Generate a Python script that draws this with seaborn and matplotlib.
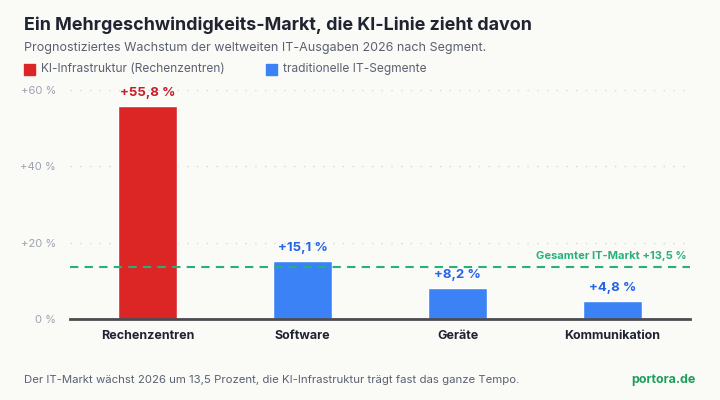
import matplotlib
matplotlib.use("Agg")
from matplotlib import pyplot as plt
import seaborn as sns

# Daten
segmente = ["Rechenzentren", "Software", "Geräte", "Kommunikation"]
wachstum = [55.8, 15.1, 8.2, 4.8]
gruppe = ["ki", "trad", "trad", "trad"]
gesamt_markt = 13.5
y_ticks = [0, 20, 40, 60]
y_labels = ["0 %", "+20 %", "+40 %", "+60 %"]

bar_farbe = {"ki": "#dc2626", "trad": "#3b82f6"}
text_farbe = {"ki": "#c81e2a", "trad": "#2563eb"}
gruen = "#26b07f"
bg = "#fafaf7"

sns.set_style("white")
plt.rcParams['font.family'] = ['Inter', 'DejaVu Sans']

fig = plt.figure(figsize=(7.2, 4), dpi=100, facecolor=bg)
ax = fig.add_axes([70 / 720, 81 / 400, 620 / 720, 229 / 400])
ax.set_facecolor(bg)

sns.barplot(x=segmente, y=wachstum, hue=segmente,
            palette=[bar_farbe[g] for g in gruppe],
            width=0.387, saturation=1, legend=False, ax=ax)

ax.set_xlim(-0.5, len(segmente) - 0.5)
ax.set_ylim(0, 60)
ax.set_yticks(y_ticks)
ax.set_yticklabels(y_labels, color="#9ca3af", fontsize=8)
for t in y_ticks[1:]:
    ax.axhline(t, color="#d8d8d8", linestyle=(0, (1, 6)), linewidth=1, zorder=0)
ax.tick_params(axis="y", length=0, pad=10)
ax.tick_params(axis="x", length=0, pad=8)
for lab in ax.get_xticklabels():
    lab.set_fontweight("bold")
    lab.set_fontsize(9)
    lab.set_color("#1f2430")

for s in ["top", "right", "left"]:
    ax.spines[s].set_visible(False)
ax.spines["bottom"].set_color("#4b4b50")
ax.spines["bottom"].set_linewidth(2)

# Balkenbeschriftungen
for i, (v, g) in enumerate(zip(wachstum, gruppe)):
    ax.annotate(f"+{v:.1f} %".replace(".", ","), (i, v), xytext=(0, 5),
                textcoords="offset points", ha="center", va="bottom",
                fontsize=9.5, fontweight="bold", color=text_farbe[g])

# Gesamtmarkt-Linie
ax.axhline(gesamt_markt, color=gruen, linestyle=(0, (4, 3)), linewidth=1.5, zorder=1)
ax.text(3.48, gesamt_markt + 1.6, "Gesamter IT-Markt +" + f"{gesamt_markt:.1f}".replace(".", ",") + " %",
        ha="right", va="bottom", fontsize=8, fontweight="bold", color=gruen)

# Titel, Untertitel, Legende
fig.text(24 / 720, 1 - 25 / 400, "Ein Mehrgeschwindigkeits-Markt, die KI-Linie zieht davon",
         fontsize=12.9, fontweight="bold", color="#1f2430", va="center")
fig.text(24 / 720, 1 - 48 / 400, "Prognostiziertes Wachstum der weltweiten IT-Ausgaben 2026 nach Segment.",
         fontsize=9, color="#5b6170", va="center")
fig.patches.append(plt.Rectangle((24 / 720, 1 - 75 / 400), 11 / 720, 11 / 400,
                                 transform=fig.transFigure, color=bar_farbe["ki"]))
fig.text(41 / 720, 1 - 69 / 400, "KI-Infrastruktur (Rechenzentren)", fontsize=8.6, color="#5b6170", va="center")
fig.patches.append(plt.Rectangle((266 / 720, 1 - 75 / 400), 11 / 720, 11 / 400,
                                 transform=fig.transFigure, color=bar_farbe["trad"]))
fig.text(283 / 720, 1 - 69 / 400, "traditionelle IT-Segmente", fontsize=8.6, color="#5b6170", va="center")

# Fußzeile
fig.text(24 / 720, 1 - 380 / 400,
         "Der IT-Markt wächst 2026 um 13,5 Prozent, die KI-Infrastruktur trägt fast das ganze Tempo.",
         fontsize=8.2, color="#5b6170", va="center")
fig.text(696 / 720, 1 - 380 / 400, "portora.de", fontsize=9, fontweight="bold",
         color="#1f9d5c", va="center", ha="right")

fig.savefig("out.png", dpi=100, facecolor=bg)
